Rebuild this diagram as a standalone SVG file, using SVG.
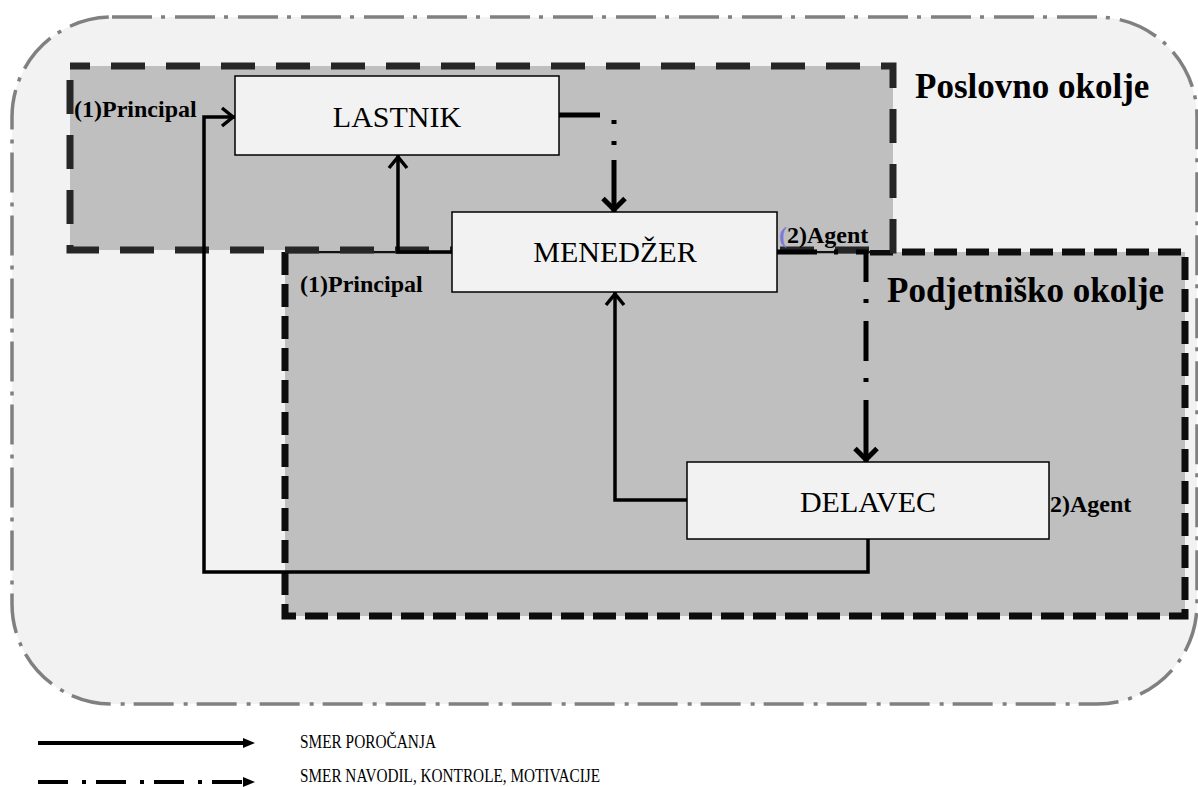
<svg xmlns="http://www.w3.org/2000/svg" width="1198" height="787" viewBox="0 0 1198 787">
  <style>
    .serif { font-family: "Liberation Serif", "Times New Roman", serif; fill: #000; }
    .node-box { fill: #f2f2f2; stroke: #000; stroke-width: 1.5; }
    .node-text { font-size: 30px; text-anchor: middle; }
    .role { font-size: 24px; font-weight: bold; }
    .env { font-size: 35px; font-weight: bold; }
    .legend-text { font-size: 19px; }
    .report { fill: none; stroke: #000; stroke-width: 3.5; }
    .command { fill: none; stroke: #000; stroke-width: 5; }
    .legend-line { fill: none; stroke: #000; stroke-width: 4; }
  </style>
  <defs>
    <marker id="chevron" viewBox="-16 -14 20 28" markerWidth="20" markerHeight="28" markerUnits="userSpaceOnUse" refX="2" refY="0" orient="auto">
      <path d="M-11,-9 L0,0 L-11,9" fill="none" stroke="#000" stroke-width="3.5"/>
    </marker>
    <marker id="chevron-bold" viewBox="-18 -16 22 32" markerWidth="22" markerHeight="32" markerUnits="userSpaceOnUse" refX="2.5" refY="0" orient="auto">
      <path d="M-11,-11 L0,0 L-11,11" fill="none" stroke="#000" stroke-width="5"/>
    </marker>
    <marker id="triangle" viewBox="0 -6 13 12" markerWidth="13" markerHeight="12" markerUnits="userSpaceOnUse" refX="0" refY="0" orient="auto">
      <path d="M0,-5 L12,0 L0,5 Z" fill="#000"/>
    </marker>
  </defs>

  <!-- outer environment -->
  <rect x="12" y="17" width="1185" height="687" rx="100" ry="100" fill="#f2f2f2" stroke="#808080" stroke-width="3.5" stroke-dasharray="40 9 4 10"/>

  <!-- Podjetniško okolje region -->
  <g id="podjetnisko-okolje">
    <rect x="285" y="252" width="900" height="364" fill="#bfbfbf"/>
    <path d="M870,252 H1185 V616 H285 V252" fill="none" stroke="#0d0d0d" stroke-width="7" stroke-dasharray="23 9"/>
    <line x1="288" y1="252" x2="870" y2="252" stroke="#111" stroke-width="2.5"/>
    <text class="serif env" x="887" y="302">Podjetniško okolje</text>
  </g>

  <!-- Poslovno okolje region -->
  <g id="poslovno-okolje">
    <rect x="70" y="66" width="823" height="184" fill="#bfbfbf" stroke="#262626" stroke-width="7" stroke-dasharray="34 21" stroke-dashoffset="14"/>
    <text class="serif env" x="915" y="98">Poslovno okolje</text>
  </g>

  <!-- connectors -->
  <g id="connectors">
    <path class="report" d="M868,539 V572 H204 V117 H235" marker-end="url(#chevron)"/>
    <path class="report" d="M687,500 H615 V292" marker-end="url(#chevron)"/>
    <path class="report" d="M452,252 H398 V155" marker-end="url(#chevron)"/>
    <path class="command" d="M559,115 H614 V212" stroke-dasharray="41 19 4 17 4 15 100" marker-end="url(#chevron-bold)"/>
    <path class="command" d="M777,252 H866 V462" stroke-dasharray="40 17 4 18 40 17 4 18 40 17 4 18 100" marker-end="url(#chevron-bold)"/>
  </g>

  <!-- nodes -->
  <g id="lastnik">
    <rect class="node-box" x="235" y="76" width="324" height="79"/>
    <text class="serif node-text" x="397" y="127">LASTNIK</text>
  </g>
  <g id="menedzer">
    <rect class="node-box" x="452" y="212" width="325" height="80"/>
    <text class="serif node-text" x="615" y="262">MENEDŽER</text>
  </g>
  <g id="delavec">
    <rect class="node-box" x="687" y="462" width="362" height="77"/>
    <text class="serif node-text" x="868" y="512">DELAVEC</text>
  </g>

  <!-- role labels -->
  <g id="roles">
    <text class="serif role" x="74" y="117">(1)Principal</text>
    <text class="serif role" x="300" y="292">(1)Principal</text>
    <text class="serif role" x="779" y="243"><tspan fill="#7b7bd6">(</tspan>2)Agent</text>
    <text class="serif role" x="1050" y="512">2)Agent</text>
  </g>

  <!-- legend -->
  <g id="legend">
    <path class="legend-line" d="M38,743 H243" marker-end="url(#triangle)"/>
    <text class="serif legend-text" x="300" y="748" textLength="136" lengthAdjust="spacingAndGlyphs">SMER POROČANJA</text>
    <path class="legend-line" d="M38,782 H243" stroke-dasharray="30 14 4 10" marker-end="url(#triangle)"/>
    <text class="serif legend-text" x="300" y="782" textLength="300" lengthAdjust="spacingAndGlyphs">SMER NAVODIL, KONTROLE, MOTIVACIJE</text>
  </g>
</svg>
